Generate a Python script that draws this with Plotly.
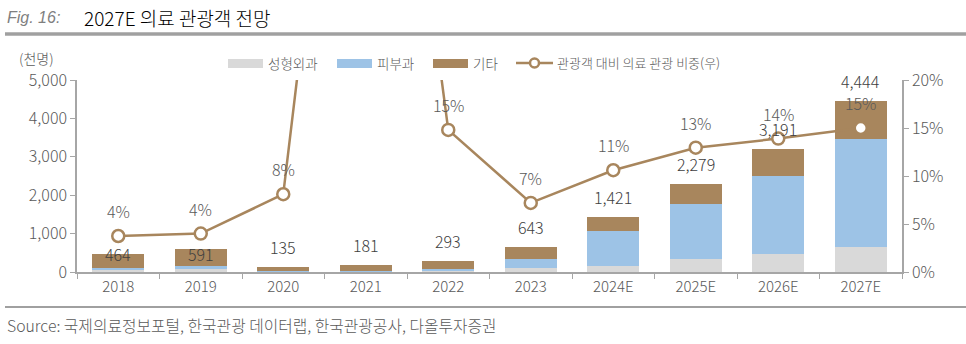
import plotly.graph_objects as go

categories = ["2018", "2019", "2020", "2021", "2022", "2023", "2024E", "2025E", "2026E", "2027E"]
plastic_surgery = [60, 90, 15, 15, 40, 100, 160, 330, 475, 643]      # 성형외과
dermatology = [50, 60, 10, 10, 30, 245, 895, 1445, 2020, 2820]        # 피부과
others = [354, 441, 110, 156, 223, 298, 366, 504, 696, 981]           # 기타
medical_share = [0.0375, 0.040, 0.081, 0.80, 0.148, 0.072, 0.106, 0.1295, 0.139, 0.150]  # 관광객 대비 의료 관광 비중

totals = [a + b + c for a, b, c in zip(plastic_surgery, dermatology, others)]

C_GRAY = "#d9d9d9"
C_BLUE = "#9dc3e6"
C_BROWN = "#a8865d"
AX = "#a6a6a6"
TXT = "#595959"
FONT = "Noto Sans CJK KR"
WT = 300

fig = go.Figure()
fig.add_bar(x=categories, y=plastic_surgery, name="성형외과", marker=dict(color=C_GRAY, line=dict(width=0)))
fig.add_bar(x=categories, y=dermatology, name="피부과", marker=dict(color=C_BLUE, line=dict(width=0)))
fig.add_bar(x=categories, y=others, name="기타", marker=dict(color=C_BROWN, line=dict(width=0)))
fig.add_scatter(x=categories, y=medical_share, yaxis="y2", name="관광객 대비 의료 관광 비중(우)",
                mode="lines+markers", line=dict(color=C_BROWN, width=2.5),
                marker=dict(symbol="circle", size=12, color="white", line=dict(color=C_BROWN, width=2.5)),
                cliponaxis=True)

annotations = []
# bar total labels (x given as category index)
total_shift = {0: 0, 1: -5}
for i, t in enumerate(totals):
    annotations.append(dict(x=i, y=t, xref="x", yref="y", text=f"{t:,}", showarrow=False,
                            yshift=total_shift.get(i, 20),
                            font=dict(family=FONT, size=16, color="#404040", weight=WT)))
# share labels
for i, v in enumerate(medical_share):
    if v <= 0.2:
        annotations.append(dict(x=i, y=v, xref="x", yref="y2", text=f"{round(v * 100):d}%", showarrow=False,
                                yshift=25, font=dict(family=FONT, size=16, color=TXT, weight=WT)))

page_annots = []
page_annots.append(dict(x=5, y=17, text="<i>Fig. 16:</i>", xanchor="left",
                        font=dict(family="Liberation Sans", size=16, color="#7f7f7f")))
page_annots.append(dict(x=82, y=17, text="2027E 의료 관광객 전망", xanchor="left",
                        font=dict(family=FONT, size=19, color="#000000", weight=WT)))
page_annots.append(dict(x=17, y=58, text="(천명)", xanchor="left",
                        font=dict(family=FONT, size=14, color=TXT, weight=WT)))
page_annots.append(dict(x=5, y=325, text="Source: 국제의료정보포털, 한국관광 데이터랩, 한국관광공사, 다올투자증권",
                        xanchor="left", font=dict(family=FONT, size=15.8, color=TXT, weight=WT)))

shapes = [
    dict(type="line", x0=5, x1=966, y0=34, y1=34, line=dict(color="#a0a0a0", width=3.5)),
    dict(type="line", x0=5, x1=966, y0=307, y1=307, line=dict(color="#a0a0a0", width=2)),
]

# manual legend
leg_items = [
    (228, 263, C_GRAY, "성형외과"),
    (337, 372, C_BLUE, "피부과"),
    (433, 468, C_BROWN, "기타"),
]
for x0, x1, col, label in leg_items:
    shapes.append(dict(type="rect", x0=x0, x1=x1, y0=59, y1=68, fillcolor=col, line=dict(width=0)))
    page_annots.append(dict(x=x1 + 3, y=63, text=label, xanchor="left",
                            font=dict(family=FONT, size=13.5, color=TXT, weight=WT)))
shapes.append(dict(type="line", x0=516, x1=553, y0=63, y1=63, line=dict(color=C_BROWN, width=2.5)))
shapes.append(dict(type="circle", x0=530, x1=539, y0=58.5, y1=67.5, fillcolor="white",
                   line=dict(color=C_BROWN, width=2.5)))
page_annots.append(dict(x=555, y=63, text="관광객 대비 의료 관광 비중(우)", xanchor="left",
                        font=dict(family=FONT, size=13, color=TXT, weight=WT)))

W, H = 966, 344
ML, MR, MT, MB = 77, 64, 80, 72
PW, PH = W - ML - MR, H - MT - MB


def px_x(x):
    return (x - ML) / PW


def px_y(y):
    return (H - MB - y) / PH


for a in page_annots:
    a.update(xref="paper", yref="paper", x=px_x(a["x"]), y=px_y(a["y"]), showarrow=False, yanchor="middle")
    annotations.append(a)
for s in shapes:
    s["xref"] = "paper"
    s["yref"] = "paper"
    s["x0"], s["x1"] = px_x(s["x0"]), px_x(s["x1"])
    s["y0"], s["y1"] = px_y(s["y0"]), px_y(s["y1"])

fig.update_layout(
    width=W, height=H,
    margin=dict(l=ML, r=MR, t=MT, b=MB),
    barmode="stack", bargap=0.37,
    showlegend=False,
    plot_bgcolor="white", paper_bgcolor="white",
    font=dict(family=FONT, color=TXT, weight=WT),
    annotations=annotations, shapes=shapes,
    xaxis=dict(type="category", range=[-0.5, len(categories) - 0.5], autorange=False,
               showline=True, linecolor=AX, linewidth=1.5, ticks="outside",
               tickson="boundaries", ticklen=5, tickcolor=AX,
               tickfont=dict(size=15, color=TXT, family=FONT, weight=WT), showgrid=False),
    yaxis=dict(range=[0, 5000], dtick=1000, tickformat=",", showline=True, linecolor=AX, linewidth=1.5,
               ticks="outside", ticklen=5, tickcolor=AX, showgrid=False, zeroline=False,
               tickfont=dict(size=16, color=TXT, family=FONT, weight=WT)),
    yaxis2=dict(range=[0, 0.2], dtick=0.05, tickformat=".0%", overlaying="y", side="right", showline=True,
                linecolor=AX, linewidth=1.5, ticks="outside", ticklen=5, tickcolor=AX, showgrid=False,
                zeroline=False, tickfont=dict(size=16, color=TXT, family=FONT, weight=WT)),
)

fig.write_html("out.html")
